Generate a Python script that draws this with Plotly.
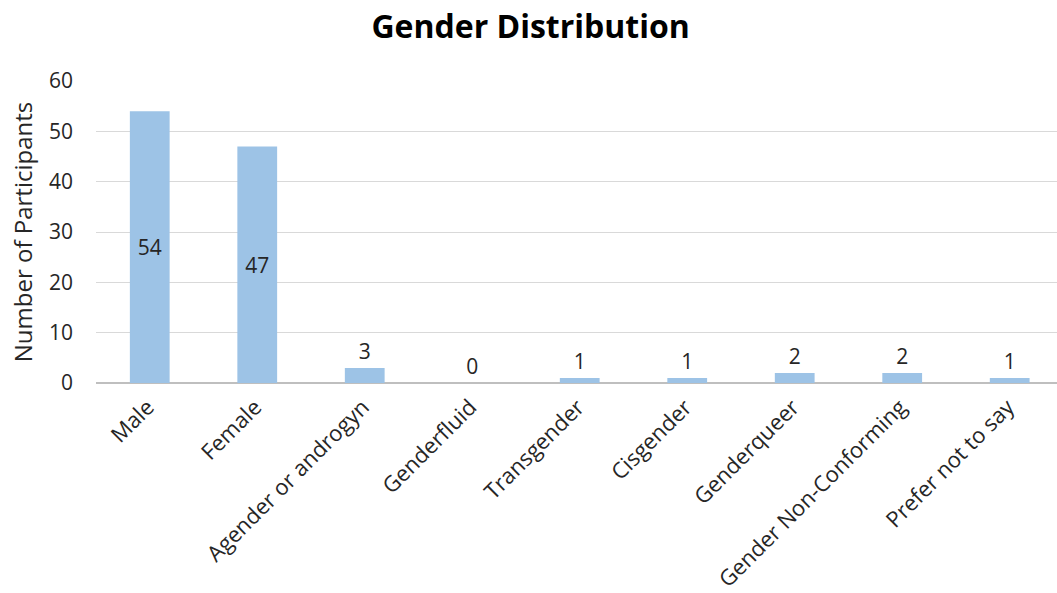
import plotly.graph_objects as go

# Survey responses by gender
categories = ["Male", "Female", "Agender or androgyn", "Genderfluid", "Transgender",
              "Cisgender", "Genderqueer", "Gender Non-Conforming", "Prefer not to say"]
participants = [54, 47, 3, 0, 1, 1, 2, 2, 1]
y_ticks = [0, 10, 20, 30, 40, 50, 60]

FONT = "'Open Sans', sans-serif"
TEXT_GREY = "#262626"

# big bars carry their label in the middle, small ones above the bar
positions = ["inside" if v > 10 else "outside" for v in participants]

fig = go.Figure(
    go.Bar(
        x=categories,
        y=participants,
        width=0.37,
        marker=dict(color="#9DC3E6", line=dict(width=0)),
        text=[str(v) for v in participants],
        textposition=positions,
        insidetextanchor="middle",
        textfont=dict(family=FONT, size=21, color=TEXT_GREY),
        cliponaxis=False,
    )
)

fig.update_layout(
    width=1057,
    height=593,
    margin=dict(l=96, r=0, t=81, b=210),
    paper_bgcolor="white",
    plot_bgcolor="white",
    showlegend=False,
    title=dict(
        text="<b>Gender Distribution</b>",
        x=0.502,
        xanchor="center",
        y=0.954,
        yanchor="middle",
        font=dict(family=FONT, size=32, color="#000000"),
    ),
    uniformtext=dict(mode=False),
)

fig.update_xaxes(
    range=[-0.5, 8.44],
    tickangle=-45,
    tickfont=dict(family=FONT, size=22, color=TEXT_GREY),
    showgrid=False,
    showline=False,
    ticks="",
    ticklabelstandoff=6,
    ticklabelshift=-2,
    automargin=False,
)

fig.update_yaxes(
    range=[0, 60],
    tickvals=y_ticks,
    tickfont=dict(family=FONT, size=21, color=TEXT_GREY),
    showgrid=True,
    gridcolor="#D9D9D9",
    gridwidth=1,
    zeroline=True,
    zerolinecolor="#BFBFBF",
    zerolinewidth=1.5,
    ticks="",
    ticklabelstandoff=22,
    automargin=False,
    title=dict(text="Number of Participants",
               font=dict(family=FONT, size=24, color=TEXT_GREY), standoff=9),
)

fig.write_html("out.html")
